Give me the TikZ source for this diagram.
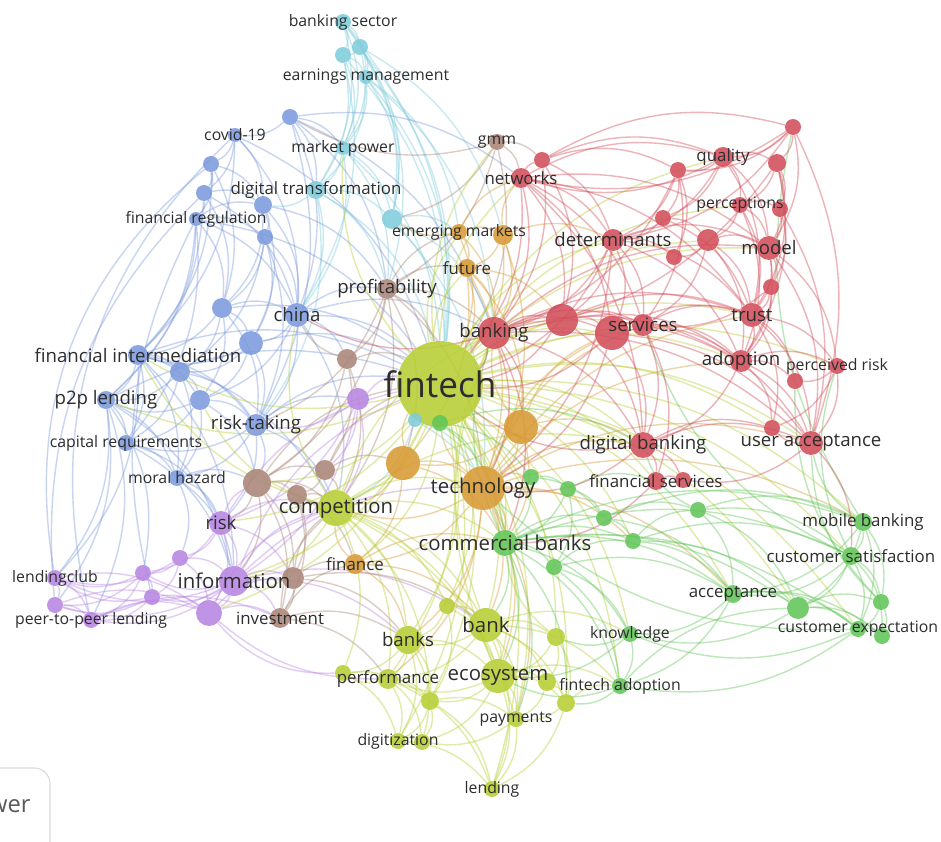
\documentclass[tikz,border=0pt]{standalone}
\usepackage{fontspec}
\setmainfont{Open Sans}
\usetikzlibrary{backgrounds}

\definecolor{clRed}{RGB}{210,78,90}
\definecolor{clGreen}{RGB}{98,198,88}
\definecolor{clBlue}{RGB}{124,154,220}
\definecolor{clYellow}{RGB}{184,206,52}
\definecolor{clPurple}{RGB}{184,134,226}
\definecolor{clCyan}{RGB}{128,204,220}
\definecolor{clOrange}{RGB}{216,154,52}
\definecolor{clBrown}{RGB}{170,134,120}
\definecolor{txt}{RGB}{45,45,45}
\definecolor{boxgray}{RGB}{218,218,218}

\tikzset{
  bub/.style={circle, inner sep=0pt, fill opacity=0.88},
  rbub/.style={bub, fill=clRed, minimum size=#1*0.04cm},
  gbub/.style={bub, fill=clGreen, minimum size=#1*0.04cm},
  bbub/.style={bub, fill=clBlue, minimum size=#1*0.04cm},
  ybub/.style={bub, fill=clYellow, minimum size=#1*0.04cm},
  pbub/.style={bub, fill=clPurple, minimum size=#1*0.04cm},
  cbub/.style={bub, fill=clCyan, minimum size=#1*0.04cm},
  obub/.style={bub, fill=clOrange, minimum size=#1*0.04cm},
  nbub/.style={bub, fill=clBrown, minimum size=#1*0.04cm},
  lbl/.style={text=txt, text opacity=1, inner sep=0pt},
  lblS/.style={lbl, font=\fontsize{9}{9}\selectfont},
  lblT/.style={lbl, font=\fontsize{9.6}{9.6}\selectfont},
  lblM/.style={lbl, font=\fontsize{10.6}{10.6}\selectfont},
  lblL/.style={lbl, font=\fontsize{11.6}{11.6}\selectfont},
  lblX/.style={lbl, font=\fontsize{20}{20}\selectfont},
  link/.style={draw opacity=0.42, line width=0.8pt, bend left=22},
  rlink/.style={link, draw=clRed},
  glink/.style={link, draw=clGreen},
  blink/.style={link, draw=clBlue},
  ylink/.style={link, draw=clYellow},
  plink/.style={link, draw=clPurple},
  clink/.style={link, draw=clCyan},
  olink/.style={link, draw=clOrange},
  nlink/.style={link, draw=clBrown}
}

\begin{document}
\begin{tikzpicture}[x=0.02cm, y=-0.02cm]
\useasboundingbox (0,0) rectangle (941,842);

% unlabelled items
\node[cbub=8] (c1) at (360,47) {};
\node[cbub=8] (c2) at (343,55) {};
\node[cbub=10] (c3) at (392,219) {};
\node[bbub=8] (b1) at (290,117) {};
\node[bbub=8] (b2) at (211,164) {};
\node[bbub=8] (b3) at (204,193) {};
\node[bbub=9] (b4) at (263,205) {};
\node[bbub=8] (b5) at (265,237) {};
\node[bbub=10] (b6) at (222,308) {};
\node[bbub=12] (b7) at (251,343) {};
\node[bbub=10] (b8) at (180,372) {};
\node[bbub=10] (b9) at (200,400) {};
\node[pbub=11] (u1) at (358,399) {};
\node[pbub=8] (u2) at (180,558) {};
\node[pbub=8] (u3) at (143,573) {};
\node[pbub=8] (u4) at (152,597) {};
\node[pbub=8] (u5) at (55,605) {};
\node[pbub=13] (u6) at (209,613) {};
\node[nbub=10] (w1) at (347,359) {};
\node[nbub=14] (w2) at (257,483) {};
\node[nbub=10] (w3) at (325,470) {};
\node[nbub=10] (w4) at (297,495) {};
\node[nbub=11] (w5) at (293,578) {};
\node[obub=10] (o1) at (503,235) {};
\node[obub=17] (o2) at (521,427) {};
\node[obub=17] (o3) at (403,463) {};
\node[ybub=8] (y1) at (447,606) {};
\node[ybub=9] (y2) at (556,637) {};
\node[ybub=9] (y3) at (547,682) {};
\node[ybub=8] (y4) at (343,673) {};
\node[ybub=9] (y5) at (430,701) {};
\node[ybub=9] (y6) at (566,703) {};
\node[ybub=8] (y7) at (422,742) {};
\node[gbub=8] (g1) at (531,477) {};
\node[gbub=8] (g2) at (568,489) {};
\node[gbub=8] (g3) at (604,518) {};
\node[gbub=8] (g4) at (554,567) {};
\node[gbub=8] (g5) at (633,541) {};
\node[gbub=8] (g6) at (698,510) {};
\node[gbub=11] (g7) at (798,608) {};
\node[gbub=8] (g8) at (881,602) {};
\node[gbub=8] (g9) at (882,636) {};
\node[rbub=8] (r1) at (542,160) {};
\node[rbub=8] (r2) at (793,127) {};
\node[rbub=8] (r3) at (678,170) {};
\node[rbub=9] (r4) at (777,163) {};
\node[rbub=8] (r5) at (780,209) {};
\node[rbub=8] (r6) at (663,218) {};
\node[rbub=11] (r7) at (708,240) {};
\node[rbub=8] (r8) at (674,257) {};
\node[rbub=8] (r9) at (771,287) {};
\node[rbub=16] (r10) at (562,320) {};
\node[rbub=17] (r11) at (612,333) {};
\node[rbub=8] (r12) at (795,381) {};
\node[rbub=8] (r13) at (772,428) {};
\node[rbub=8] (r14) at (683,480) {};

% labelled items
\node[ybub=43, label={[lblX]center:fintech}] (fintech) at (440,384) {};
\node[cbub=7] (c4) at (415,420) {};
\node[gbub=8] (g0) at (440,423) {};

\node[cbub=8, label={[lblS]center:banking sector}] (bsec) at (343,22) {};
\node[cbub=7, label={[lblS]center:earnings management}] (earn) at (366,77) {};
\node[cbub=7, label={[lblS]center:market power}] (mpow) at (343,148) {};
\node[cbub=9, label={[lblT]center:digital transformation}] (dtrans) at (316,190) {};

\node[bbub=7, label={[lblS]center:covid-19}] (covid) at (235,135) {};
\node[bbub=7, label={[lblS]center:financial regulation}] (freg) at (196,219) {};
\node[bbub=12, label={[lblM]center:china}] (china) at (297,315) {};
\node[bbub=10, label={[lblM]center:financial intermediation}] (finter) at (138,355) {};
\node[bbub=9, label={[lblM]center:p2p lending}] (p2p) at (106,400) {};
\node[bbub=11, label={[lblM]center:risk-taking}] (rtake) at (256,425) {};
\node[bbub=8, label={[lblS]center:capital requirements}] (capreq) at (126,443) {};
\node[bbub=8, label={[lblS]center:moral hazard}] (moral) at (177,478) {};

\node[pbub=12, label={[lblM]center:risk}] (risk) at (221,523) {};
\node[pbub=15, label={[lblL]center:information}] (info) at (234,581) {};
\node[pbub=8, label={[lblS]center:lendingclub}] (lclub) at (55,578) {};
\node[pbub=8, label={[lblS]center:peer-to-peer lending}] (p2pl) at (91,620) {};

\node[nbub=8, label={[lblS]center:gmm}] (gmm) at (497,142) {};
\node[nbub=10, label={[lblM]center:profitability}] (profit) at (387,289) {};
\node[nbub=10, label={[lblT]center:investment}] (invest) at (280,618) {};

\node[obub=8, label={[lblS]center:emerging markets}] (emerg) at (459,232) {};
\node[obub=9, label={[lblT]center:future}] (future) at (467,268) {};
\node[obub=22, label={[lblL]center:technology}] (tech) at (483,488) {};
\node[obub=10, label={[lblT]center:finance}] (finance) at (355,564) {};

\node[ybub=18, label={[lblL]center:competition}] (compet) at (336,508) {};
\node[ybub=17, label={[lblL]center:bank}] (bank) at (486,625) {};
\node[ybub=14, label={[lblM]center:banks}] (banks) at (408,640) {};
\node[ybub=17, label={[lblL]center:ecosystem}] (eco) at (498,676) {};
\node[ybub=10, label={[lblT]center:performance}] (perf) at (388,679) {};
\node[ybub=8, label={[lblS]center:payments}] (pay) at (516,719) {};
\node[ybub=8, label={[lblS]center:digitization}] (digit) at (398,741) {};
\node[ybub=8, label={[lblS]center:lending}] (lend) at (492,789) {};

\node[gbub=13, label={[lblL]center:commercial banks}] (cbanks) at (505,543) {};
\node[gbub=9, label={[lblT]center:mobile banking}] (mob) at (863,522) {};
\node[gbub=9, label={[lblT]center:customer satisfaction}] (csat) at (851,556) {};
\node[gbub=9, label={[lblT]center:acceptance}] (accept) at (733,594) {};
\node[gbub=8, label={[lblS]center:customer expectation}] (cexp) at (858,629) {};
\node[gbub=8, label={[lblS]center:knowledge}] (know) at (630,634) {};
\node[gbub=8, label={[lblS]center:fintech adoption}] (fadopt) at (620,686) {};

\node[rbub=10, label={[lblT]center:networks}] (net) at (521,178) {};
\node[rbub=10, label={[lblT]center:quality}] (quality) at (723,157) {};
\node[rbub=8, label={[lblS]center:perceptions}] (percep) at (740,205) {};
\node[rbub=11, label={[lblM]center:determinants}] (determ) at (613,240) {};
\node[rbub=12, label={[lblM]center:model}] (model) at (769,248) {};
\node[rbub=16, label={[lblM]center:banking}] (banking) at (494,333) {};
\node[rbub=11, label={[lblM]center:services}] (services) at (643,325) {};
\node[rbub=12, label={[lblM]center:trust}] (trust) at (752,315) {};
\node[rbub=11, label={[lblM]center:adoption}] (adopt) at (741,361) {};
\node[rbub=8, label={[lblS]center:perceived risk}] (prisk) at (837,366) {};
\node[rbub=13, label={[lblM]center:digital banking}] (dbank) at (643,445) {};
\node[rbub=12, label={[lblM]center:user acceptance}] (uacc) at (811,443) {};
\node[rbub=9, label={[lblT]center:financial services}] (fserv) at (656,481) {};

% corner of the viewer box
\draw[boxgray, line width=0.6pt, rounded corners=9pt] (-40,768) rectangle (50,880);
\node[anchor=east, text=black!65, font=\fontsize{13.5}{13.5}\selectfont, inner sep=0pt] (wer) at (31,806) {wer};

\begin{pgfonlayer}{background}
\fill[white] (0,0) rectangle (941,842);
% cyan links
\path[clink] (bsec) edge (c1) edge (c2) edge (earn) edge (mpow) edge (dtrans) edge (c3) edge (fintech);
\path[clink] (c1) edge (c2) edge (earn) edge (mpow) edge (c3) edge (fintech) edge (profit) edge (o1);
\path[clink] (c2) edge (earn) edge (mpow) edge (dtrans) edge (fintech) edge (china);
\path[clink] (earn) edge (mpow) edge (c3) edge (fintech) edge (banking) edge (dtrans) edge (emerg);
\path[clink] (mpow) edge (dtrans) edge (c3) edge (fintech) edge (china) edge (profit);
\path[clink] (dtrans) edge (c3) edge (fintech) edge (china) edge (b4) edge (profit) edge (rtake);
\path[clink] (c3) edge (fintech) edge (emerg) edge (banking) edge (tech);
\path[clink] (c4) edge (compet) edge (tech) edge (cbanks);
% blue links
\path[blink] (b1) edge (covid) edge (mpow) edge (china) edge (dtrans) edge (rtake) edge (net) edge (banking) edge (profit);
\path[blink] (covid) edge (b2) edge (b3) edge (b4) edge (china) edge (finter) edge[bend right=30] (p2pl) edge (fintech);
\path[blink] (b2) edge (b3) edge (freg) edge (b4) edge (b6) edge (finter) edge[bend right=30] (lclub);
\path[blink] (b3) edge (freg) edge (b4) edge (b6) edge (china) edge (p2p) edge[bend right=25] (u5);
\path[blink] (freg) edge (b4) edge (b5) edge (finter) edge (p2p) edge (capreq) edge (b6) edge (china) edge[bend right=20] (u4) edge (fintech);
\path[blink] (b4) edge (b5) edge (china) edge (b6) edge (profit) edge (b7);
\path[blink] (b5) edge (b6) edge (china) edge (b7) edge (rtake) edge (b8);
\path[blink] (b6) edge (china) edge (b7) edge (finter) edge (b8) edge (rtake) edge (b9) edge (fintech);
\path[blink] (china) edge (b7) edge (rtake) edge (fintech) edge (profit) edge (banking) edge (b9) edge (w1) edge (compet);
\path[blink] (b7) edge (finter) edge (b8) edge (b9) edge (rtake) edge (fintech);
\path[blink] (finter) edge (p2p) edge (b8) edge (b9) edge (capreq) edge (moral) edge (lclub) edge (info) edge (rtake) edge (compet) edge (fintech);
\path[blink] (b8) edge (p2p) edge (b9) edge (rtake) edge (capreq) edge (moral);
\path[blink] (b9) edge (p2p) edge (rtake) edge (capreq) edge (moral) edge (w2);
\path[blink] (p2p) edge (capreq) edge (moral) edge (lclub) edge (u5) edge (p2pl) edge (u3) edge (fintech) edge (info);
\path[blink] (rtake) edge (capreq) edge (moral) edge (w2) edge (compet) edge (fintech) edge (risk) edge (u1);
\path[blink] (capreq) edge (moral) edge (risk) edge (info);
\path[blink] (moral) edge (risk) edge (w2) edge (info) edge (u2);
% purple links
\path[plink] (u1) edge (fintech) edge (rtake) edge (info) edge (risk) edge (w3) edge (compet);
\path[plink] (risk) edge (u2) edge (info) edge (u6) edge (w2) edge (compet) edge (w5) edge (u3) edge (fintech);
\path[plink] (u2) edge (info) edge (u3) edge (u4) edge (u6) edge (lclub);
\path[plink] (info) edge (u3) edge (u4) edge (u6) edge (lclub) edge (p2pl) edge (u5) edge (w5) edge (invest) edge (fintech) edge (compet) edge (banks) edge (bank) edge (tech);
\path[plink] (u3) edge (u4) edge (lclub) edge (u5) edge (p2pl);
\path[plink] (u4) edge (lclub) edge (u5) edge (p2pl) edge (u6);
\path[plink] (lclub) edge (u5) edge (p2pl) edge (u6);
\path[plink] (u5) edge (p2pl) edge (u6);
\path[plink] (p2pl) edge (u6) edge (invest);
\path[plink] (u6) edge (invest) edge (w5) edge[bend right=25] (y4) edge[bend right=20] (perf) edge (compet);
% brown links
\path[nlink] (gmm) edge (net) edge (profit) edge (c3) edge (b1) edge (fintech) edge (r1);
\path[nlink] (profit) edge (w1) edge (fintech) edge (banking) edge (compet) edge (tech) edge (w2) edge (future) edge (emerg) edge (o3) edge (rtake);
\path[nlink] (w1) edge (fintech) edge (w3) edge (compet) edge (w2) edge (china);
\path[nlink] (w2) edge (w3) edge (w4) edge (compet) edge (w5) edge (info) edge (invest) edge (fintech) edge (risk);
\path[nlink] (w3) edge (w4) edge (compet) edge (o3) edge (fintech);
\path[nlink] (w4) edge (compet) edge (w5) edge (invest) edge (finance);
\path[nlink] (w5) edge (invest) edge (compet) edge (finance) edge (banks) edge (bank);
\path[nlink] (invest) edge (compet) edge (finance) edge (banks) edge (perf);
% orange links
\path[olink] (emerg) edge (o1) edge (future) edge (fintech) edge (banking) edge (c3) edge (net);
\path[olink] (o1) edge (future) edge (fintech) edge (banking) edge (determ) edge (tech) edge (net);
\path[olink] (future) edge (fintech) edge (tech) edge (o2) edge (banking) edge (o3) edge (r10);
\path[olink] (o2) edge (tech) edge (fintech) edge (o3) edge (banking) edge (dbank) edge (cbanks) edge (r11);
\path[olink] (o3) edge (tech) edge (fintech) edge (compet) edge (finance) edge (cbanks);
\path[olink] (tech) edge (fintech) edge (compet) edge (cbanks) edge (bank) edge (finance) edge (dbank) edge (eco) edge (r11) edge (uacc) edge (g1) edge (services) edge (trust) edge (adopt) edge (mob) edge (accept) edge (g5) edge (perf) edge (pay) edge (banks);
\path[olink] (finance) edge (compet) edge (banks) edge (bank) edge (cbanks);
% yellow links
\path[ylink] (fintech) edge (compet) edge (bank) edge (banks) edge (eco) edge (cbanks) edge (banking) edge (r11) edge (trust) edge (adopt) edge (dbank) edge (fserv) edge (uacc) edge (mob) edge (accept) edge (perf) edge (pay) edge (y1) edge (info) edge (risk) edge (determ) edge (lend) edge (digit) edge (csat) edge (model) edge (y2) edge (know);
\path[ylink] (fintech) edge (r10) edge (services) edge (quality) edge (percep) edge (net) edge (emerg) edge (future) edge (finter) edge (p2p) edge (w2) edge (u6) edge (finance) edge (y5) edge (y6) edge (fadopt) edge (g5) edge (g7) edge (cexp) edge (prisk) edge (r13) edge (r7) edge (gmm) edge (mpow);
\path[ylink] (compet) edge (bank) edge (banks) edge (perf) edge (eco) edge (y1) edge (cbanks) edge (info) edge (y4) edge (banking) edge (tech) edge (china) edge (finter) edge (b9) edge (dbank) edge (pay) edge (y5);
\path[ylink] (y1) edge (bank) edge (banks) edge (eco) edge (y5);
\path[ylink] (bank) edge (banks) edge (eco) edge (y2) edge (y3) edge (perf) edge (pay) edge (y6) edge (lend) edge (know) edge (fadopt) edge (banking);
\path[ylink] (banks) edge (perf) edge (eco) edge (y4) edge (y5) edge (digit) edge (y7);
\path[ylink] (y2) edge (eco) edge (y3) edge (y6) edge (cbanks);
\path[ylink] (eco) edge (y3) edge (pay) edge (y5) edge (y6) edge (lend) edge (perf) edge (fadopt) edge (y7) edge (banking);
\path[ylink] (y3) edge (y6) edge (pay);
\path[ylink] (perf) edge (y4) edge (y5) edge (digit) edge (y7) edge (lend);
\path[ylink] (y4) edge (y5) edge (digit);
\path[ylink] (y5) edge (y7) edge (pay) edge (digit) edge (lend);
\path[ylink] (y6) edge (pay) edge (fadopt) edge (lend);
\path[ylink] (pay) edge (lend) edge (y7);
\path[ylink] (digit) edge (y7) edge (lend);
% green links
\path[glink] (g0) edge (cbanks) edge (tech) edge (dbank) edge (g1);
\path[glink] (g1) edge (g2) edge (cbanks) edge (g3);
\path[glink] (g2) edge (g3) edge (cbanks) edge (g4) edge (fserv);
\path[glink] (cbanks) edge (g3) edge (g4) edge (g5) edge (know) edge (accept) edge (fadopt) edge (g7) edge (mob) edge (bank) edge (csat) edge (cexp) edge (banking) edge (eco) edge (pay) edge (y6);
\path[glink] (g3) edge (g5) edge (g6) edge (accept) edge (mob);
\path[glink] (g4) edge (know) edge (g5) edge (fadopt) edge (accept);
\path[glink] (g5) edge (g6) edge (accept) edge (g7) edge (csat);
\path[glink] (g6) edge (mob) edge (csat) edge (accept) edge (g7) edge (dbank);
\path[glink] (mob) edge (csat) edge (g8) edge (cexp) edge (g7) edge (accept) edge (uacc) edge (r2);
\path[glink] (csat) edge (g7) edge (g8) edge (cexp) edge (g9) edge (accept) edge (prisk) edge (services);
\path[glink] (accept) edge (g7) edge (cexp) edge (know) edge (fadopt) edge (g9);
\path[glink] (g7) edge (g8) edge (cexp) edge (g9) edge (know);
\path[glink] (g8) edge (g9) edge (cexp) edge (r12) edge (uacc);
\path[glink] (cexp) edge (g9) edge (know) edge (fadopt) edge (tech);
\path[glink] (know) edge (fadopt) edge (y2) edge (eco);
\path[glink] (fadopt) edge (eco) edge (y6) edge (g7);
% red links
\path[rlink] (net) edge (banking) edge (determ) edge (r11) edge (services) edge (fintech) edge (r1) edge (quality) edge (model) edge (trust) edge (dbank) edge (r10);
\path[rlink] (r1) edge (r3) edge (quality) edge (determ) edge (r10) edge (r2) edge (banking);
\path[rlink] (r2) edge (r4) edge (model) edge (r3) edge (uacc) edge (quality) edge (determ) edge (net);
\path[rlink] (quality) edge (r4) edge (percep) edge (model) edge (trust) edge (determ) edge (r6) edge (r3) edge (net);
\path[rlink] (r3) edge (r6) edge (r8) edge (determ) edge (services) edge (banking);
\path[rlink] (r4) edge (r5) edge (model) edge (percep) edge (trust) edge (adopt) edge (banking);
\path[rlink] (percep) edge (r7) edge (model) edge (trust) edge (adopt) edge (r5);
\path[rlink] (r5) edge (model) edge (r9) edge (uacc);
\path[rlink] (r6) edge (determ) edge (r7) edge (trust);
\path[rlink] (determ) edge (r11) edge (services) edge (banking) edge (r10) edge (r8) edge (model) edge (trust) edge (fintech) edge (tech) edge (adopt);
\path[rlink] (r7) edge (r8) edge (model) edge (trust) edge (adopt) edge (services);
\path[rlink] (model) edge (r9) edge (trust) edge (adopt) edge (uacc) edge (prisk);
\path[rlink] (r9) edge (trust) edge (adopt) edge (services);
\path[rlink] (banking) edge (r10) edge (r11) edge (fintech) edge (tech) edge (dbank) edge (o2) edge (trust) edge (adopt) edge (cbanks) edge (services) edge (uacc) edge (model) edge (china);
\path[rlink] (r10) edge (r11) edge (services) edge (trust) edge (dbank) edge (fintech) edge (adopt);
\path[rlink] (r11) edge (services) edge (trust) edge (adopt) edge (dbank) edge (fintech) edge (uacc) edge (tech);
\path[rlink] (services) edge (trust) edge (adopt) edge (dbank) edge (uacc) edge (fserv);
\path[rlink] (trust) edge (adopt) edge (prisk) edge (r12) edge (uacc) edge (r13);
\path[rlink] (adopt) edge (r12) edge (uacc) edge (r13) edge (dbank) edge (prisk);
\path[rlink] (prisk) edge (r12) edge (uacc) edge (r13);
\path[rlink] (dbank) edge (fserv) edge (r14) edge (r13) edge (uacc) edge (tech) edge (fintech);
\path[rlink] (uacc) edge (r13) edge (r14) edge (csat);
\path[rlink] (fserv) edge (r14) edge (cbanks);
\end{pgfonlayer}
\end{tikzpicture}
\end{document}
